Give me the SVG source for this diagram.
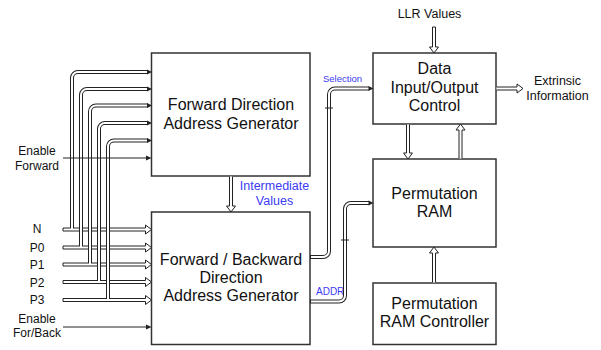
<svg xmlns="http://www.w3.org/2000/svg" width="601" height="350" viewBox="0 0 601 350">
<style>
.box{fill:#fff;stroke:#333;stroke-width:1.5}
.t{font-family:"Liberation Sans",Arial,sans-serif;font-size:16px;fill:#111;text-anchor:middle}
.s{font-family:"Liberation Sans",Arial,sans-serif;font-size:12px;fill:#111;text-anchor:middle}
.b{font-family:"Liberation Sans",Arial,sans-serif;fill:#3b3bf5}
.ha{fill:#fff;stroke:#222;stroke-width:1}
.o{fill:none;stroke:#222;stroke-width:4}
.i{fill:none;stroke:#fff;stroke-width:2}
.ln{fill:none;stroke:#222;stroke-width:1}
.tip{fill:#222}
</style>
<rect width="601" height="350" fill="#fff"/>
<g id="node-forward">
<rect class="box" x="151.5" y="53" width="158.5" height="123"/>
<text class="t" x="231" y="110">Forward Direction</text>
<text class="t" x="231" y="129">Address Generator</text>
</g>
<g id="node-fb">
<rect class="box" x="151.5" y="212" width="158.5" height="132.5"/>
<text class="t" x="231" y="265">Forward / Backward</text>
<text class="t" x="231" y="283">Direction</text>
<text class="t" x="231" y="301">Address Generator</text>
</g>
<g id="node-data">
<rect class="box" x="373" y="53" width="123" height="71"/>
<text class="t" x="434.5" y="74">Data</text>
<text class="t" x="434.5" y="92.5">Input/Output</text>
<text class="t" x="434.5" y="111">Control</text>
</g>
<g id="node-ram">
<rect class="box" x="373" y="159" width="123" height="88"/>
<text class="t" x="434.5" y="199">Permutation</text>
<text class="t" x="434.5" y="217">RAM</text>
</g>
<g id="node-ctrl">
<rect class="box" x="373" y="283" width="123" height="61.5"/>
<text class="t" x="434.5" y="309">Permutation</text>
<text class="t" x="434.5" y="327">RAM Controller</text>
</g>
<g id="labels">
<text class="s" x="37" y="155">Enable</text>
<text class="s" x="37" y="170">Forward</text>
<text class="s" x="37" y="233">N</text>
<text class="s" x="37" y="251.5">P0</text>
<text class="s" x="37" y="269">P1</text>
<text class="s" x="37" y="286.5">P2</text>
<text class="s" x="37" y="304">P3</text>
<text class="s" x="37" y="323">Enable</text>
<text class="s" x="37" y="337">For/Back</text>
<text class="s" x="429.5" y="18" style="font-size:12.5px">LLR Values</text>
<text class="s" x="557.5" y="85" style="font-size:12.5px">Extrinsic</text>
<text class="s" x="557.5" y="100" style="font-size:12.5px">Information</text>
<text class="b" x="274.5" y="190" font-size="12.5" text-anchor="middle">Intermediate</text>
<text class="b" x="274.5" y="205" font-size="12.5" text-anchor="middle">Values</text>
<text class="b" x="323" y="82" font-size="9.5">Selection</text>
<text class="b" x="316" y="295" font-size="10">ADDR</text>
</g>
<g id="connectors">
<path class="ha" d="M63,228 L145.5,228 L145.5,225 L151.5,229.5 L145.5,234 L145.5,231 L63,231 Z"/>
<path class="ha" d="M63,246 L145.5,246 L145.5,243 L151.5,247.5 L145.5,252 L145.5,249 L63,249 Z"/>
<path class="ha" d="M63,263 L145.5,263 L145.5,260 L151.5,264.5 L145.5,269 L145.5,266 L63,266 Z"/>
<path class="ha" d="M63,280.5 L145.5,280.5 L145.5,277.5 L151.5,282 L145.5,286.5 L145.5,283.5 L63,283.5 Z"/>
<path class="ha" d="M63,298.5 L145.5,298.5 L145.5,295.5 L151.5,300 L145.5,304.5 L145.5,301.5 L63,301.5 Z"/>
<path class="o" d="M72,228 V78 A6,6 0 0 1 78,72 H148"/>
<path class="o" d="M81,246 V95 A6,6 0 0 1 87,89 H148"/>
<path class="o" d="M90,263 V111.5 A6,6 0 0 1 96,105.5 H148"/>
<path class="o" d="M99,280.5 V129 A6,6 0 0 1 105,123 H148"/>
<path class="o" d="M108,298.5 V146.5 A6,6 0 0 1 114,140.5 H148"/>
<path class="i" d="M72,229 V78 A6,6 0 0 1 78,72 H148"/>
<path class="i" d="M81,247 V95 A6,6 0 0 1 87,89 H148"/>
<path class="i" d="M90,264 V111.5 A6,6 0 0 1 96,105.5 H148"/>
<path class="i" d="M99,281.5 V129 A6,6 0 0 1 105,123 H148"/>
<path class="i" d="M108,299.5 V146.5 A6,6 0 0 1 114,140.5 H148"/>
<path class="tip" d="M147,69.5 L152,72 L147,74.5 Z"/>
<path class="tip" d="M147,86.5 L152,89 L147,91.5 Z"/>
<path class="tip" d="M147,103 L152,105.5 L147,108 Z"/>
<path class="tip" d="M147,120.5 L152,123 L147,125.5 Z"/>
<path class="tip" d="M147,138 L152,140.5 L147,143 Z"/>
<path class="ln" d="M63,158 H147"/>
<path class="tip" d="M146,155.5 L151.5,158 L146,160.5 Z"/>
<path class="ln" d="M63,327 H147"/>
<path class="tip" d="M146,324.5 L151.5,327 L146,329.5 Z"/>
<path class="ha" d="M229.5,176.5 L229.5,206 L226.5,206 L231,212 L235.5,206 L232.5,206 L232.5,176.5"/>
<path class="o" d="M310,257 H323 A6,6 0 0 0 329,251 V94.5 A6,6 0 0 1 335,88.5 H369"/>
<path class="i" d="M311,257 H323 A6,6 0 0 0 329,251 V94.5 A6,6 0 0 1 335,88.5 H369"/>
<path class="tip" d="M368.5,86 L373.5,88.5 L368.5,91 Z"/>
<path class="ln" d="M325,108 H333"/>
<path class="o" d="M310,301.5 H339 A6,6 0 0 0 345,295.5 V209 A6,6 0 0 1 351,203 H369"/>
<path class="i" d="M311,301.5 H339 A6,6 0 0 0 345,295.5 V209 A6,6 0 0 1 351,203 H369"/>
<path class="tip" d="M368.5,200.5 L373.5,203 L368.5,205.5 Z"/>
<path class="ln" d="M341,240 H349"/>
<path class="ha" d="M432.5,27 L432.5,47 L429.5,47 L434,53 L438.5,47 L435.5,47 L435.5,27 Z"/>
<path class="ha" d="M406.5,124.5 L406.5,153 L403.5,153 L408,159 L412.5,153 L409.5,153 L409.5,124.5"/>
<path class="ha" d="M459,158.5 L459,130 L456,130 L460.5,124 L465,130 L462,130 L462,158.5"/>
<path class="ha" d="M432.5,282.5 L432.5,253 L429.5,253 L434,247 L438.5,253 L435.5,253 L435.5,282.5"/>
<path class="ha" d="M496.5,87 L517,87 L517,84 L523,88.5 L517,93 L517,90 L496.5,90"/>
</g>
</svg>
